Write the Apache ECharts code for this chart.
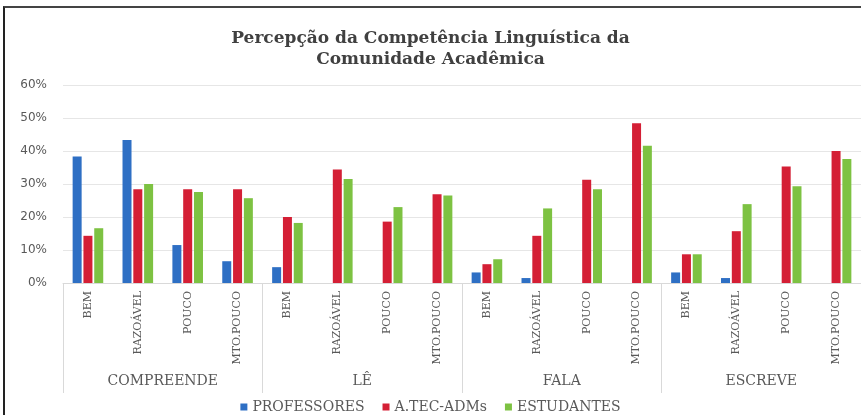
<!DOCTYPE html>
<html>
<head>
<meta charset="utf-8">
<script src="https://cdn.jsdelivr.net/npm/echarts@6/dist/echarts.min.js"></script>
<style>
  html, body { margin: 0; padding: 0; background: #fff; }
  #frame { position: absolute; left: 3px; top: 6px; width: 858px; height: 409px;
           border-left: 2px solid #222; border-top: 2px solid #444; }
  #chart { position: absolute; left: 0; top: 0; width: 861px; height: 415px; }
</style>
</head>
<body>
<div id="frame"></div>
<div id="chart"></div>
<script>
  // categorias
  var grupos = ['COMPREENDE', 'LÊ', 'FALA', 'ESCREVE'];
  var niveis = ['BEM', 'RAZOÁVEL', 'POUCO', 'MTO.POUCO'];
  var yTicks = [0, 10, 20, 30, 40, 50, 60];

  // valores em %
  var professores = [38.3, 43.3, 11.5, 6.6, 4.8, 0, 0, 0, 3.2, 1.5, 0, 0, 3.2, 1.5, 0, 0];
  var tecAdm = [14.3, 28.4, 28.4, 28.4, 20.0, 34.4, 18.6, 26.9, 5.7, 14.3, 31.3, 48.4, 8.7, 15.7, 35.3, 40.0];
  var estudantes = [16.6, 30.0, 27.6, 25.7, 18.2, 31.5, 23.0, 26.5, 7.2, 22.6, 28.4, 41.6, 8.7, 23.9, 29.3, 37.6];

  var subCats = [];
  grupos.forEach(function () {
    niveis.forEach(function (n) { subCats.push(n); });
  });

  var grey = '#595959';
  var serif = '"DejaVu Serif", "Liberation Serif", serif';

  var myChart = echarts.init(document.getElementById('chart'));

  function serie(name, data, color) {
    return {
      name: name,
      type: 'bar',
      data: data,
      barWidth: 9,
      barGap: '20%',
      itemStyle: { color: color }
    };
  }

  myChart.setOption({
    animation: false,
    title: {
      text: 'Percepção da Competência Linguística da\nComunidade Acadêmica',
      left: 'center',
      top: 23,
      textStyle: {
        fontFamily: serif,
        fontWeight: 'bold',
        fontSize: 17,
        lineHeight: 21,
        color: '#404040'
      }
    },
    legend: {
      bottom: -4,
      left: 'center',
      icon: 'rect',
      itemWidth: 7,
      itemHeight: 7,
      itemGap: 18,
      textStyle: { fontFamily: serif, fontSize: 14, color: grey },
      data: ['PROFESSORES', 'A.TEC-ADMs', 'ESTUDANTES']
    },
    grid: {
      left: 63,
      top: 85,
      width: 800,
      height: 198
    },
    xAxis: [{
        type: 'category',
        data: subCats,
        axisLine: { lineStyle: { color: '#d9d9d9' } },
        axisTick: { show: false },
        axisLabel: {
          rotate: 90,
          interval: 0,
          margin: 8,
          fontFamily: serif,
          fontSize: 11,
          color: grey
        }
      },
      {
        type: 'category',
        data: grupos,
        position: 'bottom',
        axisLine: { show: false },
        axisTick: {
          show: true,
          length: 110,
          interval: 0,
          lineStyle: { color: '#d9d9d9' }
        },
        axisLabel: {
          interval: 0,
          margin: 91,
          fontFamily: serif,
          fontSize: 14,
          color: grey
        }
      }
    ],
    yAxis: {
      type: 'value',
      min: 0,
      max: 60,
      interval: 10,
      axisLine: { show: false },
      axisTick: { show: false },
      splitLine: { lineStyle: { color: '#e6e6e6' } },
      axisLabel: {
        formatter: function (v) { return yTicks.indexOf(v) >= 0 ? v + '%' : ''; },
        fontFamily: '"DejaVu Sans", sans-serif',
        fontSize: 12,
        margin: 16,
        color: grey
      }
    },
    series: [
      serie('PROFESSORES', professores, '#2E6FC4'),
      serie('A.TEC-ADMs', tecAdm, '#D41F35'),
      serie('ESTUDANTES', estudantes, '#7DC242')
    ]
  });
</script>
</body>
</html>
